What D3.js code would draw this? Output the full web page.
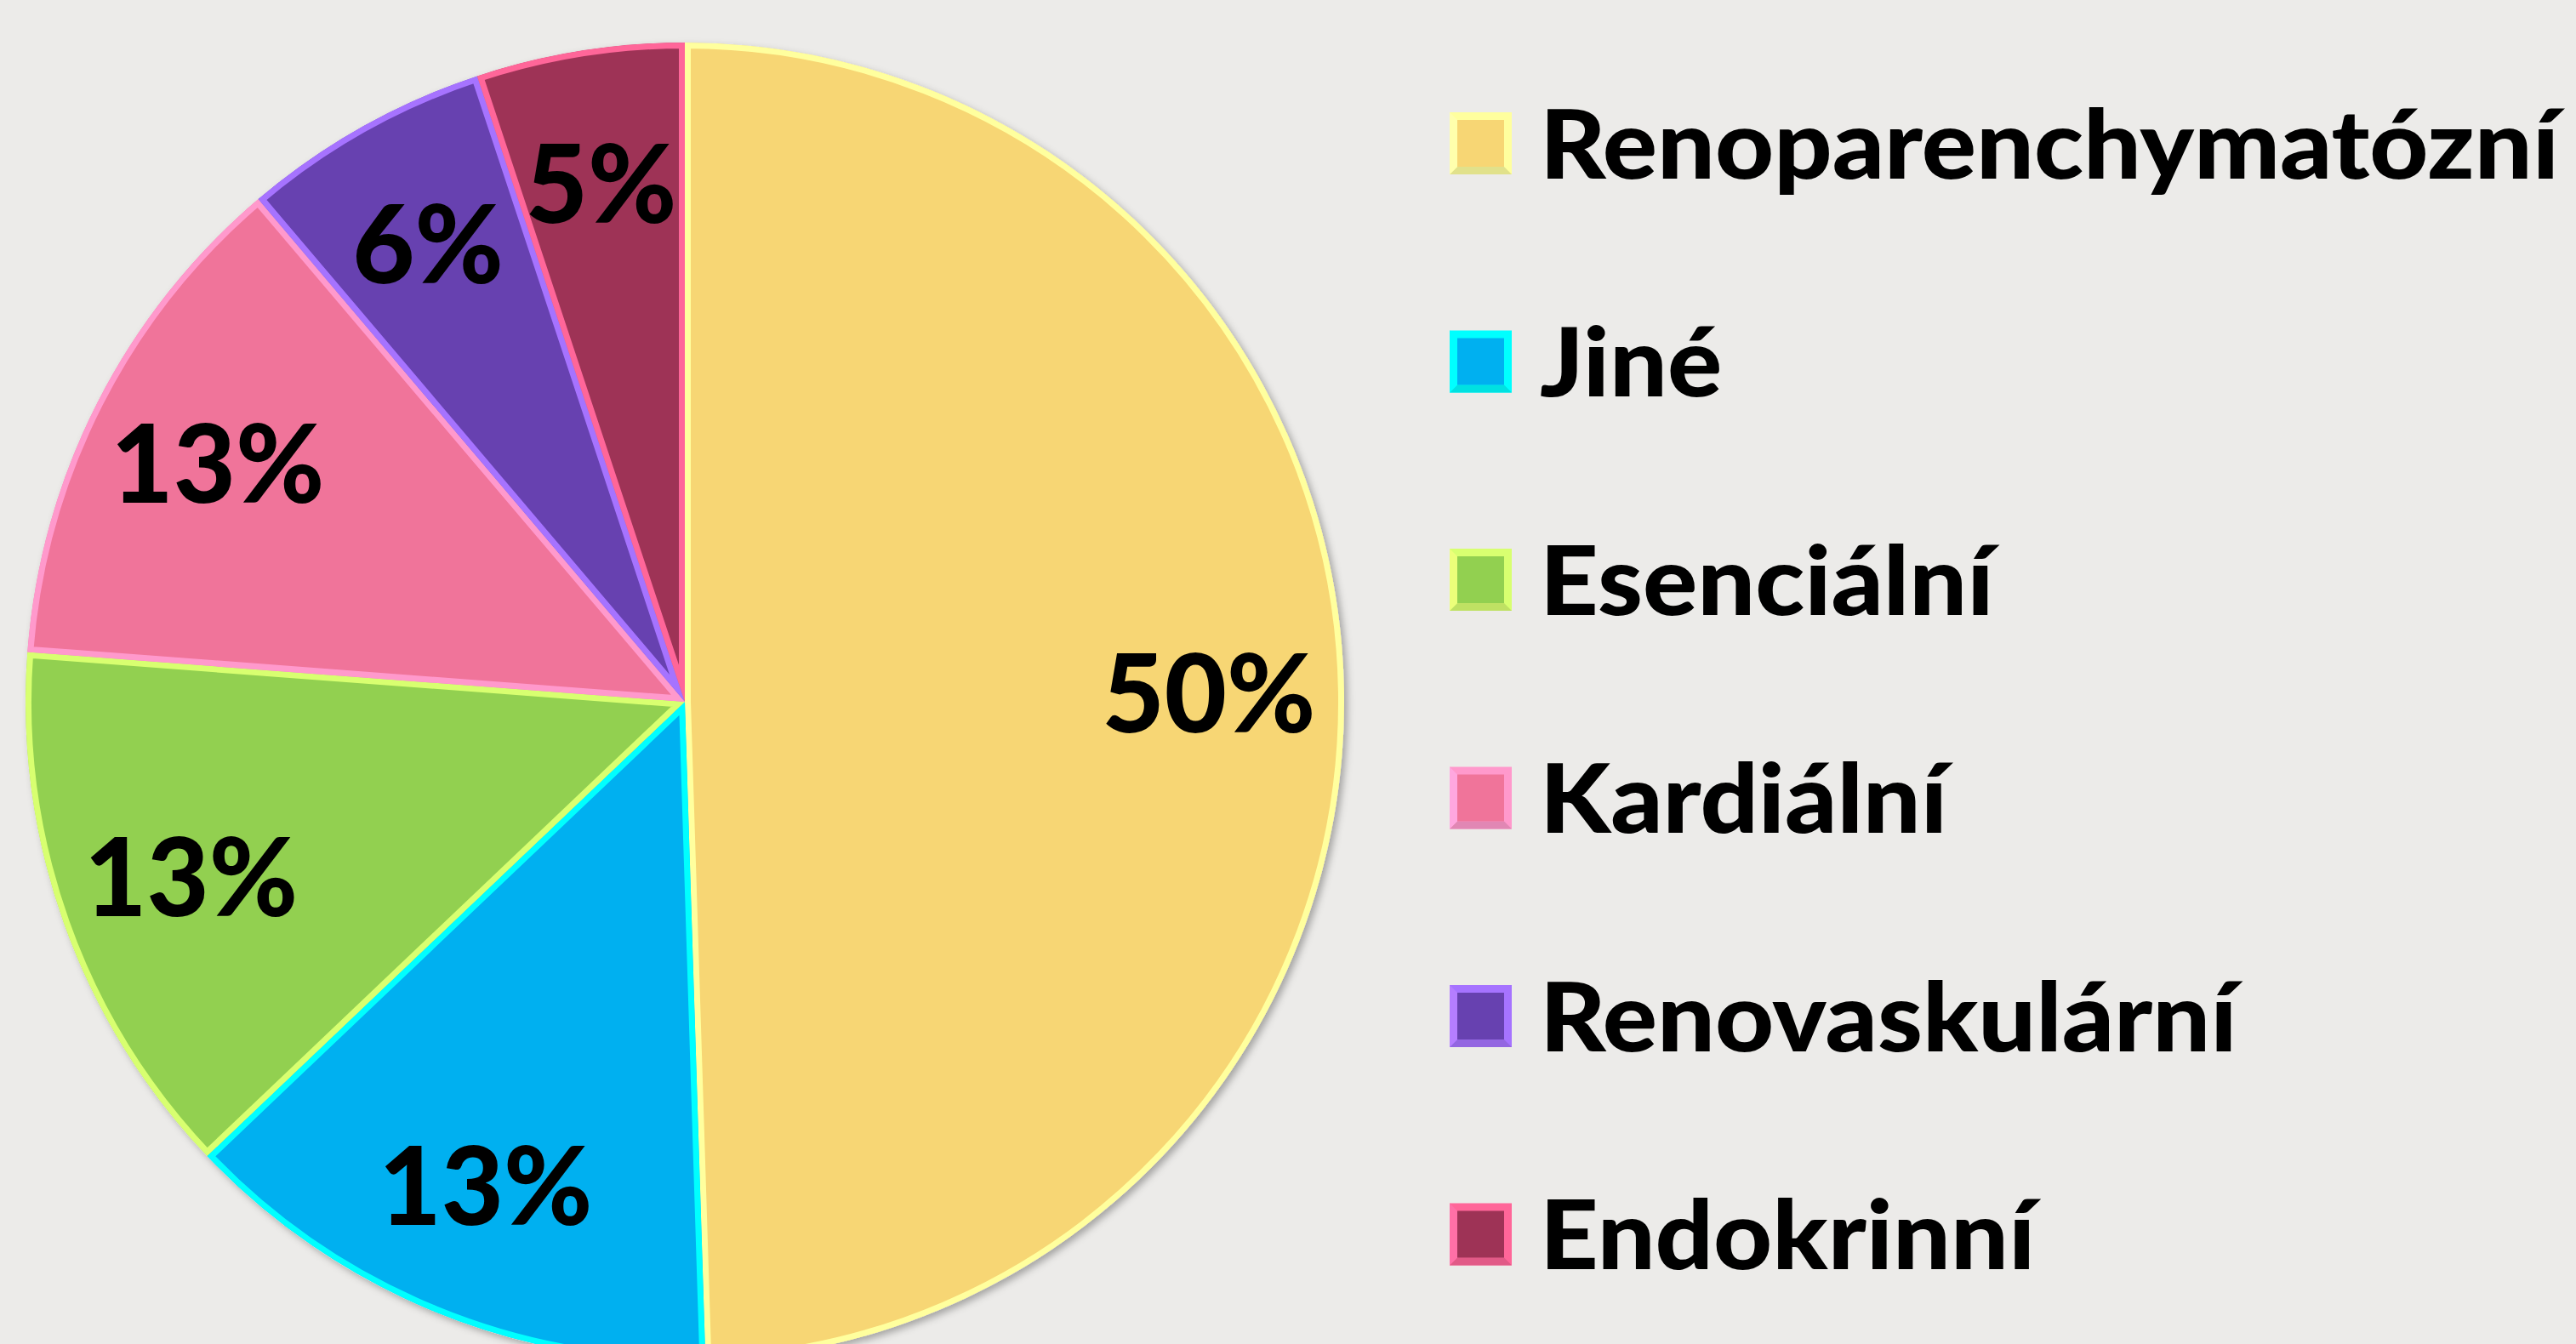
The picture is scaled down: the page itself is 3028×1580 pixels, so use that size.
<!DOCTYPE html>
<html>
<head>
<meta charset="utf-8">
<script src="https://cdn.jsdelivr.net/npm/d3@7"></script>
<style>
  html, body { margin: 0; padding: 0; background: #ECEBE9; overflow: hidden; }
  svg { display: block; }
  text { font-family: Lato, "Open Sans", "DejaVu Sans", sans-serif; font-weight: 900; fill: #000; }
</style>
</head>
<body>
<svg id="chart" width="3028" height="1580"></svg>
<script>
// ---- data ----
const categories = ["Renoparenchymatózní", "Jiné", "Esenciální", "Kardiální", "Renovaskulární", "Endokrinní"];
const values = [49.5, 13.4, 13.3, 12.6, 6.1, 5.1];
const labels = ["50%", "13%", "13%", "13%", "6%", "5%"];

// ---- styles ----
const fillColors   = ["#F7D674", "#00B0F0", "#92D050", "#F0749A", "#6741B0", "#9E3356"];
const borderColors = ["#FFFF9E", "#00FFFF", "#D8FF70", "#FF99CC", "#A673FF", "#FF6699"];

const W = 3028, H = 1580;
const cx = 805, cy = 825, R = 775;
const svg = d3.select("#chart");
svg.append("rect").attr("width", W).attr("height", H).attr("fill", "#ECEBE9");

const fill = d3.scaleOrdinal(categories, fillColors);
const border = d3.scaleOrdinal(categories, borderColors);

const defs = svg.append("defs");
const sh = defs.append("filter").attr("id", "shadow").attr("x", "-10%").attr("y", "-10%").attr("width", "120%").attr("height", "120%");
sh.append("feDropShadow").attr("dx", 4).attr("dy", 4).attr("stdDeviation", 4)
  .attr("flood-color", "#000").attr("flood-opacity", 0.3);

const pie = d3.pie().sort(null).value(d => d.v).startAngle(0).endAngle(2 * Math.PI);
const data = categories.map((c, i) => ({ c, v: values[i], lab: labels[i] }));
const arcs = pie(data);
const arc = d3.arc().innerRadius(0).outerRadius(R);

const g = svg.append("g").attr("transform", `translate(${cx},${cy})`);
g.append("circle").attr("r", R).attr("fill", "#ddd").attr("filter", "url(#shadow)");

arcs.forEach((a, i) => {
  defs.append("clipPath").attr("id", "clip" + i).append("path").attr("d", arc(a));
});
g.selectAll("path.slice").data(arcs).join("path")
  .attr("class", "slice")
  .attr("d", arc)
  .attr("fill", d => fill(d.data.c))
  .attr("stroke", d => border(d.data.c))
  .attr("stroke-width", 14)
  .attr("stroke-linejoin", "miter")
  .attr("clip-path", (d, i) => `url(#clip${i})`);

// labels
const labelFont = 127;
const labArc = d3.arc().innerRadius(R * 0.795).outerRadius(R * 0.795);
const labs = g.selectAll("text.lab").data(arcs).join("text")
  .attr("class", "lab")
  .attr("font-size", labelFont)
  .attr("text-anchor", "middle")
  .text(d => d.data.lab);
labs.each(function(d) {
  const [x, y] = labArc.centroid(d);
  d3.select(this).attr("x", x).attr("y", y + labelFont * 0.358);
});
const ref50 = labs.filter((d, i) => i === 0).node().getComputedTextLength();
const labFactor = 251 / ref50;
labs.each(function() {
  const w = this.getComputedTextLength();
  d3.select(this).attr("textLength", w * labFactor).attr("lengthAdjust", "spacingAndGlyphs");
});

// legend
const legY = d3.scalePoint().domain(categories).range([168.5, 1451]);
const sq = 73, band = 9;
const leg = svg.append("g");
const items = leg.selectAll("g").data(categories).join("g")
  .attr("transform", d => `translate(1704,${legY(d) - sq / 2})`);
items.append("rect").attr("width", sq).attr("height", sq).attr("fill", d => border(d));
items.append("path")
  .attr("d", `M0,${sq} L${band},${sq - band} L${sq - band},${sq - band} L${sq},${sq} Z`)
  .attr("fill", d => d3.color(border(d)).darker(0.35));
items.append("path")
  .attr("d", `M0,0 L${band},${band} L${band},${sq - band} L0,${sq} Z`)
  .attr("fill", d => d3.color(border(d)).brighter(0.25));
items.append("rect").attr("x", band).attr("y", band).attr("width", sq - 2 * band).attr("height", sq - 2 * band)
  .attr("fill", d => fill(d));
const legFont = 112;
const legTexts = items.append("text")
  .attr("x", 1810 - 1704)
  .attr("y", sq / 2 + 41)
  .attr("font-size", legFont)
  .text(d => d);
const refW = legTexts.filter((d, i) => i === 0).node().getComputedTextLength();
const legFactor = 1198 / refW;
legTexts.each(function() {
  const w = this.getComputedTextLength();
  d3.select(this).attr("textLength", w * legFactor).attr("lengthAdjust", "spacingAndGlyphs");
});
</script>
</body>
</html>
